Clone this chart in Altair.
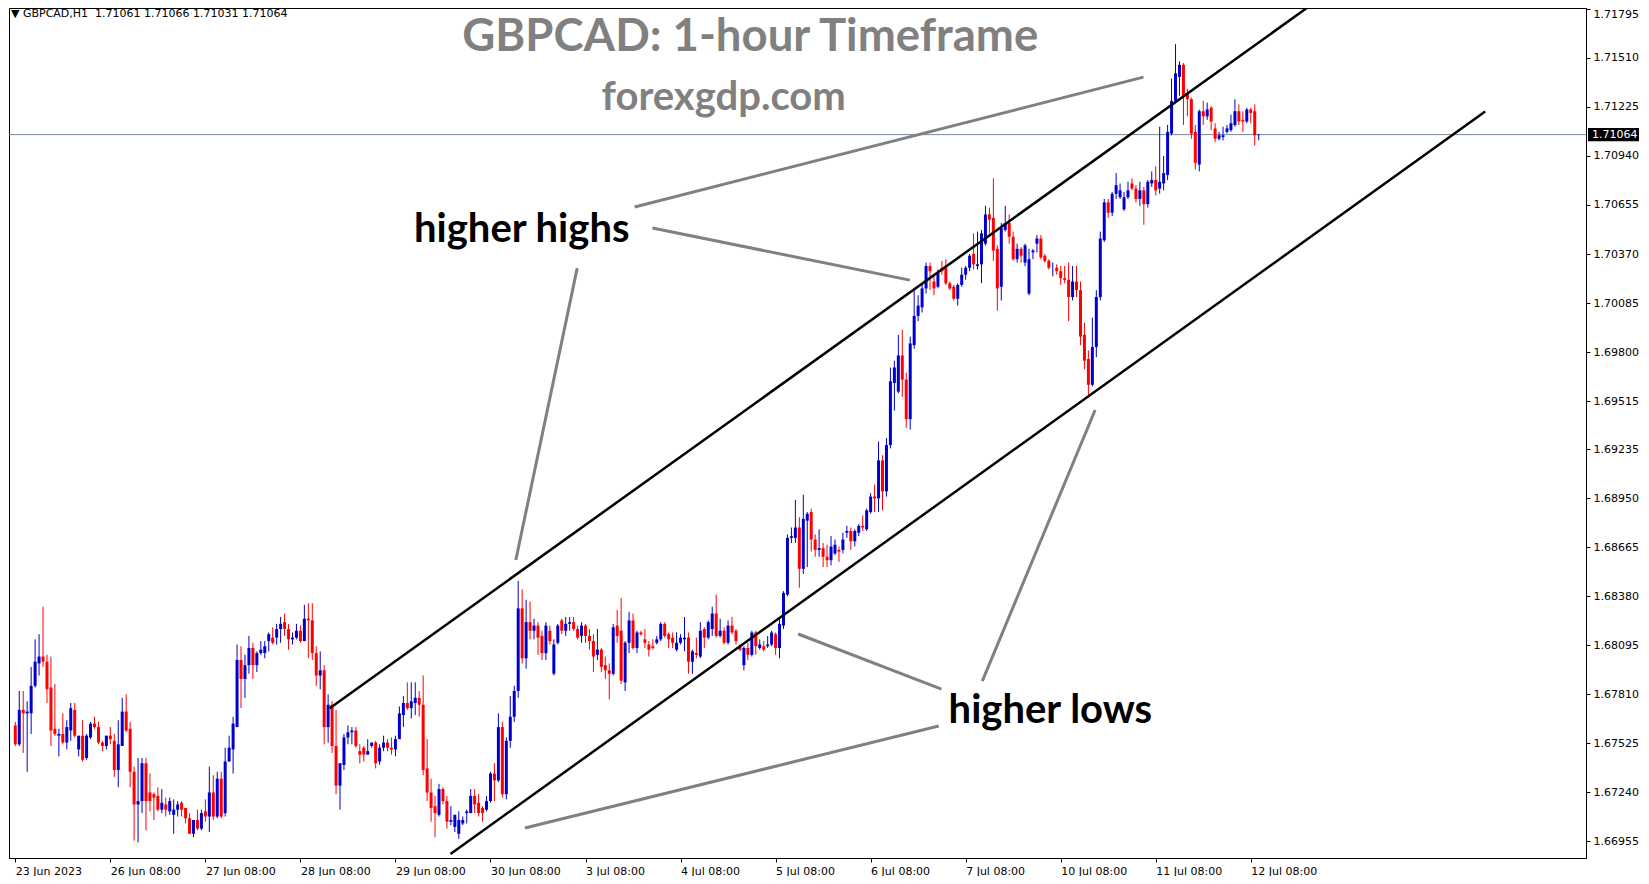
import altair as alt
import pandas as pd

# ---- candle data, prices in pips (1e-4) ----
OPEN = [16763,16752,16772,16770,16770,16786,16799,16803,16800,16785,
16761,16757,16758,16753,16760,16772,16749,16757,16744,16756,
16764,16762,16753,16751,16757,16754,16737,16751,16771,16761,
16736,16717,16719,16741,16724,16723,16722,16714,16717,16713,
16711,16714,16718,16715,16709,16700,16708,16703,16713,16710,
16724,16710,16732,16712,16742,16749,16762,16801,16790,16798,
16808,16798,16805,16805,16812,16814,16814,16819,16823,16819,
16813,16814,16818,16812,16825,16824,16805,16792,16795,16762,
16775,16751,16728,16740,16756,16759,16760,16748,16750,16746,
16751,16753,16742,16750,16753,16750,16749,16755,16769,16776,
16773,16776,16779,16775,16738,16724,16716,16711,16726,16719,
16707,16704,16700,16706,16712,16712,16722,16718,16715,16714,
16719,16735,16731,16762,16723,16754,16768,16783,16831,16802,
16823,16818,16821,16815,16805,16818,16793,16811,16824,16818,
16822,16823,16819,16815,16821,16815,16812,16804,16807,16798,
16795,16793,16821,16818,16788,16811,16824,16808,16817,16813,
16810,16809,16811,16813,16822,16816,16814,16807,16811,16813,
16814,16800,16805,16803,16819,16814,16819,16828,16815,16818,
16811,16821,16818,16809,16798,16808,16804,16817,16808,16809,
16809,16810,16816,16808,16821,16839,16872,16872,16878,16854,
16882,16887,16871,16865,16866,16861,16859,16863,16865,16865,
16875,16876,16870,16875,16879,16877,16887,16896,16895,16917,
16899,16926,16962,16957,16978,16964,16941,16984,17001,17006,
17017,17030,17021,17018,17029,17029,17020,17018,17011,17019,
17025,17029,17037,17030,17031,17043,17060,17058,17040,17018,
17051,17055,17047,17034,17040,17032,17014,17038,17043,17046,
17036,17033,17029,17029,17027,17023,17022,17012,17021,17016,
16990,16976,16961,16983,17012,17045,17067,17061,17072,17070,
17063,17070,17078,17075,17069,17074,17066,17078,17080,17075,
17078,17083,17107,17126,17140,17147,17130,17127,17108,17089,
17120,17117,17122,17110,17104,17105,17108,17109,17112,17120,
17115,17114,17121,17120,17106.1]

HIGH = [16765,16783,16783,16777,16797,16813,16816,16832,16804,16803,
16787,16761,16770,16766,16776,16776,16757,16766,16758,16765,
16768,16765,16754,16757,16762,16758,16766,16779,16781,16765,
16739,16744,16744,16744,16735,16724,16727,16726,16721,16721,
16720,16719,16719,16715,16712,16708,16714,16714,16720,16739,
16734,16736,16736,16750,16757,16768,16810,16809,16804,16815,
16811,16806,16812,16812,16817,16820,16822,16826,16828,16822,
16817,16822,16821,16833,16834,16834,16809,16806,16798,16781,
16777,16772,16741,16758,16763,16762,16762,16752,16751,16755,
16753,16754,16752,16757,16755,16756,16757,16774,16780,16788,
16788,16788,16783,16792,16755,16732,16722,16729,16727,16722,
16716,16711,16713,16710,16714,16726,16726,16723,16716,16722,
16736,16741,16770,16765,16756,16780,16786,16847,16842,16836,
16835,16825,16823,16818,16823,16821,16813,16822,16825,16826,
16826,16826,16821,16823,16822,16819,16816,16819,16808,16803,
16799,16822,16830,16837,16812,16829,16828,16818,16818,16819,
16812,16813,16815,16823,16823,16817,16817,16817,16816,16826,
16817,16807,16814,16823,16820,16824,16832,16839,16825,16820,
16824,16826,16819,16810,16809,16811,16818,16818,16813,16812,
16815,16818,16817,16826,16841,16874,16878,16894,16884,16897,
16887,16889,16874,16877,16869,16868,16873,16871,16867,16875,
16879,16878,16877,16880,16885,16889,16898,16903,16928,16920,
16930,16971,16975,16990,16993,16968,16989,17016,17013,17020,
17032,17032,17024,17028,17033,17034,17021,17019,17020,17029,
17030,17037,17049,17050,17051,17065,17064,17081,17042,17055,
17065,17060,17050,17043,17041,17043,17040,17040,17048,17048,
17037,17034,17032,17031,17030,17030,17032,17030,17030,17021,
16997,16981,17000,17016,17050,17069,17069,17073,17084,17078,
17073,17079,17081,17077,17079,17076,17080,17085,17088,17111,
17094,17112,17139,17159,17149,17148,17133,17128,17112,17121,
17126,17125,17123,17113,17108,17111,17112,17118,17127,17124,
17120,17122,17122,17124,17106.6]

LOW = [16751,16751,16747,16736,16758,16785,16792,16797,16776,16751,
16757,16745,16752,16749,16754,16756,16745,16742,16743,16755,
16761,16752,16748,16749,16752,16733,16727,16751,16759,16727,
16696,16695,16712,16702,16713,16708,16713,16712,16710,16711,
16700,16710,16710,16706,16700,16698,16702,16702,16707,16701,
16708,16709,16709,16710,16742,16735,16762,16773,16779,16793,
16790,16794,16804,16802,16806,16810,16810,16811,16815,16807,
16810,16813,16811,16812,16802,16801,16786,16784,16752,16753,
16747,16723,16714,16737,16752,16752,16750,16741,16742,16746,
16750,16738,16740,16748,16748,16746,16745,16755,16762,16772,
16767,16769,16768,16734,16719,16707,16698,16710,16717,16703,
16705,16701,16697,16705,16706,16712,16712,16710,16707,16713,
16718,16719,16730,16721,16720,16750,16765,16779,16799,16796,
16813,16813,16804,16801,16801,16810,16792,16810,16816,16815,
16818,16818,16813,16811,16811,16807,16794,16801,16794,16790,
16778,16792,16811,16787,16783,16805,16807,16805,16815,16808,
16803,16807,16810,16812,16814,16808,16808,16806,16810,16806,
16793,16793,16802,16802,16808,16813,16815,16814,16814,16810,
16810,16816,16810,16806,16795,16801,16803,16804,16807,16806,
16808,16809,16804,16802,16819,16838,16869,16869,16843,16851,
16855,16864,16861,16861,16855,16855,16856,16862,16858,16863,
16872,16865,16867,16873,16876,16876,16886,16887,16887,16888,
16896,16924,16946,16956,16954,16936,16935,16982,16998,17003,
17014,17016,17013,17017,17025,17019,17016,17010,17007,17018,
17022,17027,17028,17028,17020,17042,17049,17033,17004,17010,
17050,17043,17033,17032,17032,17030,17013,17034,17038,17034,
17032,17028,17024,17025,17019,17020,16998,17010,17012,16984,
16970,16955,16960,16977,17010,17044,17058,17059,17069,17069,
17062,17069,17074,17067,17065,17054,17064,17076,17071,17072,
17074,17080,17106,17125,17129,17112,17117,17104,17086,17085,
17112,17115,17109,17102,17103,17103,17107,17108,17111,17112,
17108,17113,17113,17100,17103.1]

CLOSE = [16752,16772,16770,16771,16786,16800,16803,16800,16784,16760,
16758,16758,16753,16762,16773,16757,16757,16743,16757,16764,
16762,16753,16751,16757,16755,16737,16752,16771,16760,16736,
16717,16719,16741,16719,16719,16721,16714,16718,16714,16719,
16714,16717,16714,16709,16700,16708,16703,16712,16710,16724,
16710,16732,16710,16742,16750,16764,16801,16790,16798,16808,
16798,16805,16807,16809,16816,16811,16819,16822,16819,16813,
16814,16818,16812,16825,16824,16805,16792,16795,16762,16775,
16751,16728,16741,16756,16759,16760,16751,16746,16746,16748,
16753,16741,16750,16753,16750,16749,16755,16770,16776,16773,
16777,16779,16775,16737,16724,16715,16712,16726,16719,16707,
16708,16711,16708,16708,16713,16722,16717,16712,16712,16719,
16735,16731,16762,16723,16754,16768,16783,16831,16802,16823,
16818,16821,16814,16805,16821,16812,16810,16821,16818,16822,
16823,16819,16814,16821,16815,16812,16803,16807,16797,16795,
16793,16820,16815,16789,16811,16824,16808,16817,16816,16811,
16807,16808,16813,16822,16815,16813,16811,16811,16814,16814,
16800,16806,16804,16818,16814,16823,16828,16815,16818,16811,
16821,16817,16812,16807,16808,16804,16817,16809,16810,16807,
16810,16817,16808,16822,16840,16872,16873,16878,16854,16883,
16886,16871,16865,16866,16861,16859,16867,16868,16864,16871,
16876,16870,16876,16879,16878,16888,16896,16895,16917,16899,
16926,16963,16971,16978,16964,16941,16985,17001,17007,17017,
17030,17027,17017,17026,17027,17020,17017,17011,17019,17025,
17029,17036,17031,17031,17049,17060,17057,17039,17017,17052,
17055,17047,17034,17040,17036,17042,17034,17039,17046,17035,
17033,17029,17029,17027,17023,17022,17012,17021,17016,16989,
16975,16961,16983,17012,17046,17067,17061,17072,17077,17074,
17070,17074,17075,17069,17074,17066,17079,17080,17074,17079,
17084,17108,17126,17142,17147,17129,17127,17107,17090,17120,
17117,17121,17114,17104,17106,17106,17110,17113,17120,17114,
17114,17121,17119,17106,17106.4]

# axis ticks
X_TICKS = [0, 24, 48, 72, 96, 120, 144, 168, 192, 216, 240, 264, 288, 312]
X_LABELS = ["23 Jun 2023", "26 Jun 08:00", "27 Jun 08:00", "28 Jun 08:00", "29 Jun 08:00",
            "30 Jun 08:00", "3 Jul 08:00", "4 Jul 08:00", "5 Jul 08:00", "6 Jul 08:00",
            "7 Jul 08:00", "10 Jul 08:00", "11 Jul 08:00", "12 Jul 08:00"]
Y_TICKS = [1.66955, 1.67240, 1.67525, 1.67810, 1.68095, 1.68380, 1.68665, 1.68950, 1.69235,
           1.69515, 1.69800, 1.70085, 1.70370, 1.70655, 1.70940, 1.71225, 1.71510, 1.71795]
CURRENT = 1.71064

# channel lines (bar index, price)
CH_ID = ["up", "up", "low", "low"]
CH_K = [79.4, 335.0, 109.9, 371.2]
CH_P = [1.67730, 1.71946, 1.66882, 1.71198]

# gray pointer lines
PT_ID = [1, 1, 2, 2, 3, 3, 4, 4, 5, 5, 6, 6]
PT_K = [156.4, 284.9, 160.9, 225.9, 141.9, 126.4, 197.7, 233.9, 272.7, 244.2, 233.2, 128.7]
PT_P = [1.70643, 1.71398, 1.70521, 1.70218, 1.70288, 1.68591, 1.68161, 1.67841,
        1.69463, 1.67887, 1.67626, 1.67033]

# labels
ANN_TEXT = ["higher highs", "higher lows"]
ANN_K = [127.9, 261.4]
ANN_P = [1.70439, 1.67646]
TITLE_TEXT = ["GBPCAD: 1-hour Timeframe", "forexgdp.com"]
TITLE_K = [185.6, 178.9]
TITLE_P = [1.71552, 1.71207]
TITLE_SIZE = [45.5, 40]
HEADER = "\u25bc GBPCAD,H1\u00a0 1.71061 1.71066 1.71031 1.71064"

W, H = 1577, 850
X_DOM = [-0.33, 395.4]
Y_DOM = [1.66859, 1.71800]

df = pd.DataFrame({
    "k": list(range(len(OPEN))),
    "open": [v / 1e4 for v in OPEN],
    "high": [v / 1e4 for v in HIGH],
    "low": [v / 1e4 for v in LOW],
    "close": [v / 1e4 for v in CLOSE],
})
df["dir"] = ["up" if c >= o else "down" for o, c in zip(df["open"], df["close"])]

xs = alt.Scale(domain=X_DOM, nice=False, zero=False)
ys = alt.Scale(domain=Y_DOM, nice=False, zero=False)
lab_arr = "[" + ",".join("'" + s + "'" for s in X_LABELS) + "]"
xaxis = alt.Axis(values=X_TICKS, labelExpr=lab_arr + "[round(datum.value/24)]", title=None,
                 grid=False, orient="bottom", labelAlign="left", labelPadding=3, tickSize=4,
                 labelOverlap=False, labelFlush=False)
yaxis = alt.Axis(values=Y_TICKS, format=".5f", title=None, grid=False, orient="right",
                 tickSize=4, labelPadding=3, labelOverlap=False, labelFlush=3)


def X(f):
    return alt.X(f, type="quantitative", scale=xs, axis=xaxis)


def Y(f):
    return alt.Y(f, type="quantitative", scale=ys, axis=yaxis)


col = alt.Color("dir:N", scale=alt.Scale(domain=["up", "down"], range=["#0000CD", "#FF0000"]),
                legend=None)

base = alt.Chart(df)
wicks = base.mark_rule(strokeWidth=1).encode(x=X("k"), y=Y("low"), y2="high", color=col)
bodies = base.mark_bar(size=3).encode(x=X("k"), y=Y("open"), y2="close", color=col)

cur_df = pd.DataFrame({"p": [CURRENT]})
cur_line = alt.Chart(cur_df).mark_rule(color="#778899", strokeWidth=1).encode(y=Y("p"))

ch_df = pd.DataFrame({"id": CH_ID, "k": CH_K, "p": CH_P})
channel = alt.Chart(ch_df).mark_line(color="black", strokeWidth=2.5, clip=True).encode(
    x=X("k"), y=Y("p"), detail="id:N")

pt_df = pd.DataFrame({"id": PT_ID, "k": PT_K, "p": PT_P})
pointers = alt.Chart(pt_df).mark_line(color="#808080", strokeWidth=3).encode(
    x=X("k"), y=Y("p"), detail="id:N")

ann_df = pd.DataFrame({"t": ANN_TEXT, "k": ANN_K, "p": ANN_P})
ann = alt.Chart(ann_df).mark_text(font="Lato", fontWeight="bold", fontSize=40, color="black",
                                  align="center", baseline="alphabetic").encode(
    x=X("k"), y=Y("p"), text="t:N")

tit_df = pd.DataFrame({"t": TITLE_TEXT, "k": TITLE_K, "p": TITLE_P, "s": TITLE_SIZE})
titles = alt.Chart(tit_df).mark_text(font="Lato", fontWeight="bold", color="#808080",
                                     align="center", baseline="alphabetic").encode(
    x=X("k"), y=Y("p"), text="t:N", size=alt.Size("s:Q", scale=None, legend=None))

hdr_df = pd.DataFrame({"t": [HEADER]})
header = alt.Chart(hdr_df).mark_text(font="DejaVu Sans", fontSize=11, color="black",
                                     align="left", baseline="middle").encode(
    x=alt.value(2), y=alt.value(6), text="t:N")

box_df = pd.DataFrame({"p": [CURRENT + 0.00038], "p2": [CURRENT - 0.00038],
                       "c": [CURRENT], "t": [f"{CURRENT:.5f}"]})
box = alt.Chart(box_df).mark_rect(color="black").encode(
    x=alt.value(W + 2), x2=alt.value(W + 53), y=Y("p"), y2="p2")
box_txt = alt.Chart(box_df).mark_text(font="DejaVu Sans", fontSize=11, color="white",
                                      align="left", baseline="middle").encode(
    x=alt.value(W + 6), y=Y("c"), text="t:N")

chart = alt.layer(cur_line, wicks, bodies, channel, pointers, ann, titles, header, box,
                  box_txt).properties(
    width=W, height=H, padding={"left": 0, "top": 0, "right": 0, "bottom": 0}
).configure_view(stroke="black", strokeWidth=1).configure_axis(
    domainColor="black", tickColor="black", labelColor="black", labelFont="DejaVu Sans",
    labelFontSize=11, domainWidth=1, tickWidth=1)

chart.save("out.html", embed_options={"renderer": "svg", "actions": False})
